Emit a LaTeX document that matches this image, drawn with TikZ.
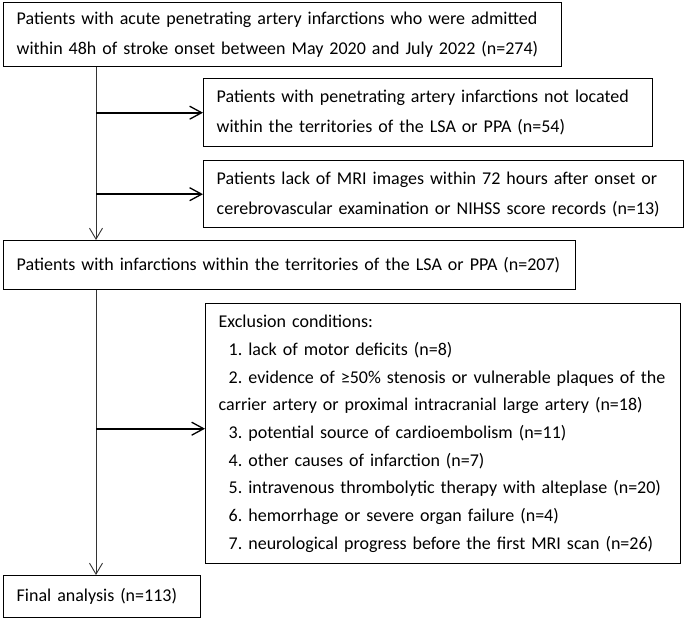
\documentclass[tikz,border=0pt]{standalone}
\usepackage{fontspec}
\setmainfont{Carlito}
\frenchspacing
\usetikzlibrary{arrows.meta}
\newcommand\oneline[1]{\mbox{#1}}
\begin{document}
\begin{tikzpicture}[x=1pt,y=-1pt,
  box/.style={draw, line width=1.4pt, inner xsep=13pt, inner ysep=0pt,
    align=left, anchor=north west, font=\fontsize{18}{30}\selectfont},
  vconn/.style={line width=0.9pt, draw=black!80, -{Straight Barb[length=11pt,width=13pt,line width=0.9pt]}},
  hconn/.style={line width=1.6pt, -{Straight Barb[length=12pt,width=13pt,line width=1.3pt]}}]
\useasboundingbox (0,0) rectangle (685,619);
\coordinate (vx) at (96,0);
\node[box, minimum width=558pt, minimum height=64pt, text width=532pt] (b1) at (3,2)
  {\oneline{Patients with acute penetrating artery infarctions who were admitted}\\
   \oneline{within 48h of stroke onset between May 2020 and July 2022 (n=274)}};
\node[box, minimum width=449pt, minimum height=68pt, text width=423pt] (bA) at (203,78)
  {\oneline{Patients with penetrating artery infarctions not located}\\
   \oneline{within the territories of the LSA or PPA (n=54)}};
\node[box, minimum width=480pt, minimum height=67pt, text width=454pt] (bB) at (203,160)
  {\oneline{Patients lack of MRI images within 72 hours after onset or}\\
   \oneline{cerebrovascular examination or NIHSS score records (n=13)}};
\node[box, minimum width=572pt, minimum height=49pt, text width=546pt] (b2) at (3,240)
  {\oneline{Patients with infarctions within the territories of the LSA or PPA (n=207)}};
\node[box, minimum width=475pt, minimum height=260pt, text width=449pt,
  font=\fontsize{18}{27.7}\selectfont] (bC) at (205,303)
  {\oneline{Exclusion conditions:}\\
   \oneline{\hspace*{10pt}1. lack of motor deficits (n=8)}\\
   \oneline{\hspace*{10pt}2. evidence of ≥50\% stenosis or vulnerable plaques of the}\\
   \oneline{carrier artery or proximal intracranial large artery (n=18)}\\
   \oneline{\hspace*{10pt}3. potential source of cardioembolism (n=11)}\\
   \oneline{\hspace*{10pt}4. other causes of infarction (n=7)}\\
   \oneline{\hspace*{10pt}5. intravenous thrombolytic therapy with alteplase (n=20)}\\
   \oneline{\hspace*{10pt}6. hemorrhage or severe organ failure (n=4)}\\
   \oneline{\hspace*{10pt}7. neurological progress before the first MRI scan (n=26)}};
\node[box, minimum width=197pt, minimum height=42pt, text width=171pt] (bF) at (3,575)
  {\oneline{Final analysis (n=113)}};
\coordinate (cC) at ([yshift=5pt]bC.west);
\draw[vconn] (b1.south -| vx) -- (b2.north -| vx);
\draw[vconn] (b2.south -| vx) -- (bF.north -| vx);
\draw[hconn] (bA.west -| vx) -- (bA.west);
\draw[hconn] (bB.west -| vx) -- (bB.west);
\draw[hconn] (cC -| vx) -- (cC);
\end{tikzpicture}
\end{document}
